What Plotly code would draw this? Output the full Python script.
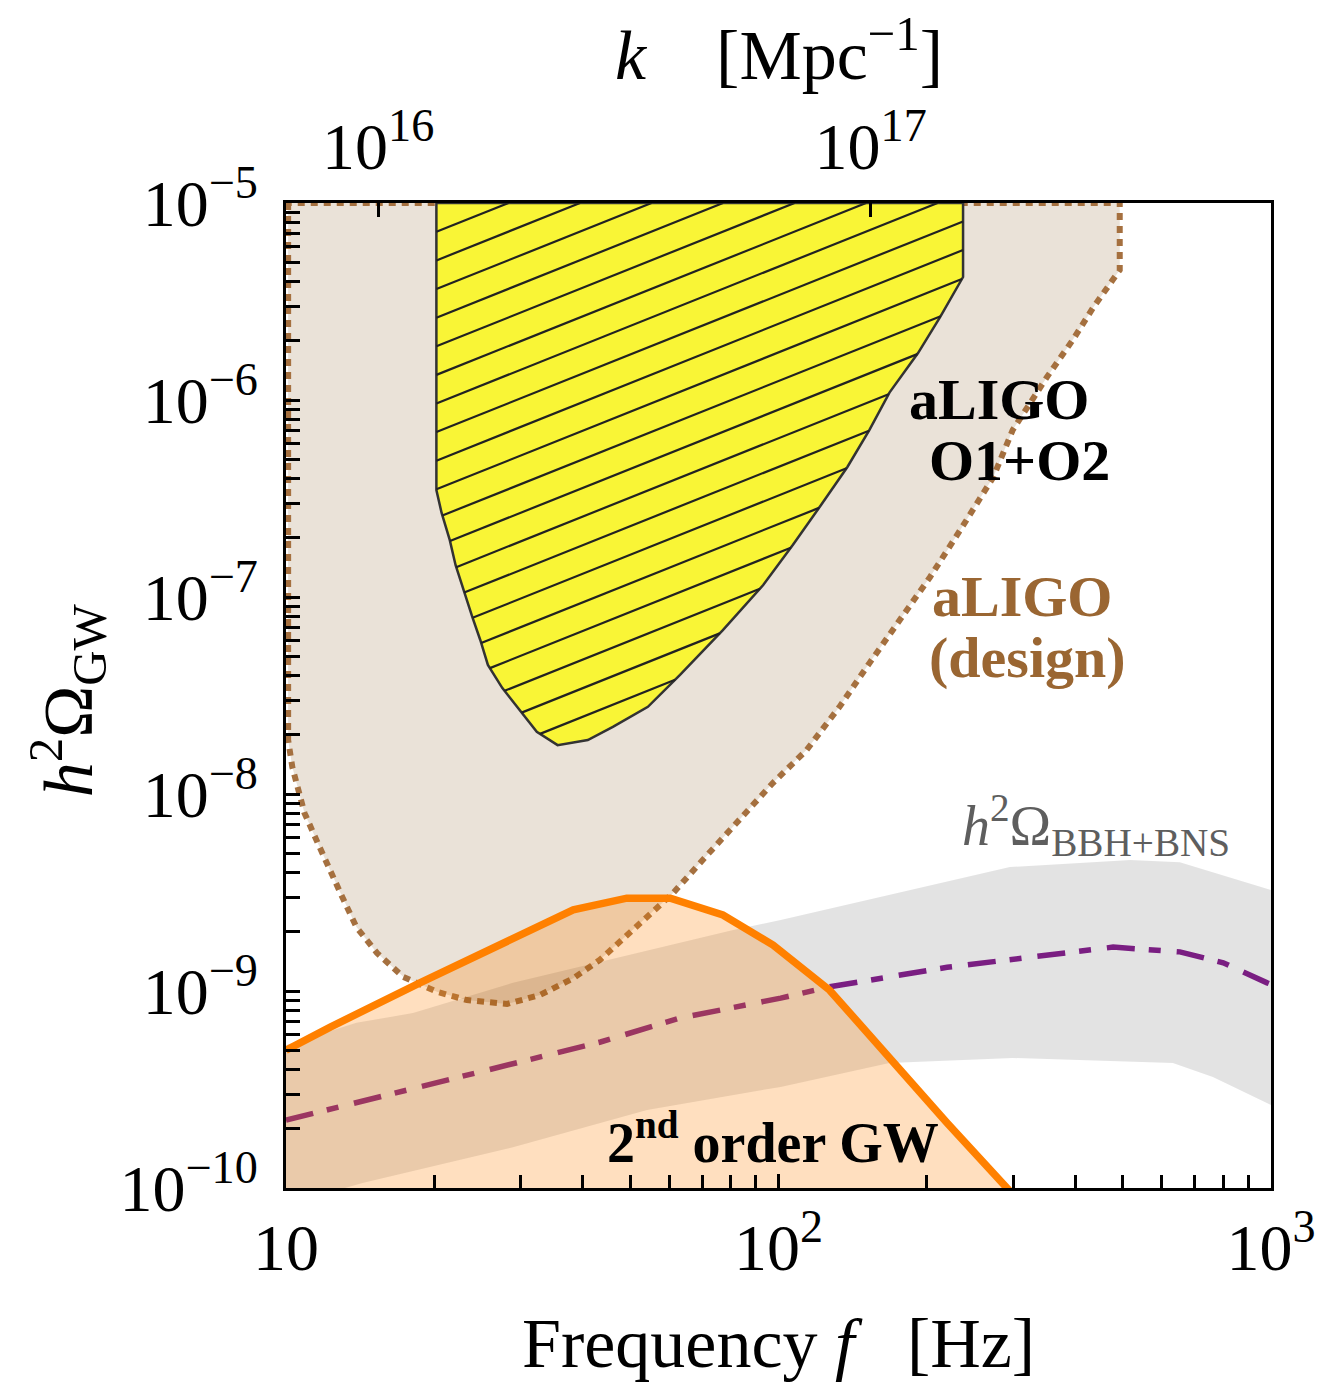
import numpy as np
import plotly.graph_objects as go

# ---------------- data ----------------
# aLIGO design sensitivity region (closed contour, f in Hz)
design_f = [10.1, 10.1, 10.3, 10.9, 11.6, 12.0, 12.9, 13.9, 15.3, 17.3, 20.3, 23.3,
            28.1, 32.8, 38.3, 43.4, 50.7, 61.1, 69.3, 83.5, 97.5, 114, 133, 153,
            177, 203, 234, 273, 299, 351, 396, 436, 493, 493, 10.1]
design_omega = [1e-5, 1.88e-8, 1.37e-8, 8.02e-9, 5.64e-9, 4.62e-9, 3.14e-9, 2.11e-9,
                1.56e-9, 1.18e-9, 9.89e-10, 8.99e-10, 8.59e-10, 9.55e-10, 1.16e-9,
                1.44e-9, 2.04e-9, 3.14e-9, 4.47e-9, 7.38e-9, 1.14e-8, 1.67e-8,
                2.77e-8, 4.62e-8, 7.64e-8, 1.26e-7, 2.19e-7, 4.06e-7, 7.05e-7,
                1.31e-6, 2.02e-6, 2.96e-6, 4.57e-6, 1e-5, 1e-5]

# aLIGO O1+O2 excluded region
o1o2_f = [20.2, 20.2, 20.7, 21.5, 22.1, 22.9, 23.9, 24.8, 25.7, 27.5, 29.9, 32.3,
          35.6, 41.0, 46.1, 54.3, 63.1, 77.1, 93.1, 107, 122, 138, 153, 168, 192,
          213, 237, 237]
o1o2_omega = [1e-5, 3.49e-7, 2.67e-7, 1.95e-7, 1.45e-7, 1.09e-7, 7.91e-8, 6.05e-8,
              4.52e-8, 3.45e-8, 2.64e-8, 2.07e-8, 1.77e-8, 1.88e-8, 2.19e-8,
              2.77e-8, 4.02e-8, 6.79e-8, 1.15e-7, 1.84e-7, 2.93e-7, 4.57e-7,
              7.05e-7, 1.09e-6, 1.73e-6, 2.64e-6, 4.21e-6, 1e-5]

# BBH+BNS astrophysical background: band and central estimate
bbh_up_f = [10, 13.9, 18.1, 28.9, 80.9, 101, 295, 518, 653, 1000]
bbh_up_omega = [5.32e-10, 6.89e-10, 7.73e-10, 1.10e-9, 2.04e-9, 2.29e-9, 4.26e-9,
                4.62e-9, 4.51e-9, 3.26e-9]
bbh_lo_f = [10, 14.3, 28.9, 54.1, 101, 168, 299, 632, 762, 1000]
bbh_lo_omega = [8.2e-11, 1.06e-10, 1.61e-10, 2.49e-10, 3.26e-10, 4.31e-10, 4.57e-10,
                4.31e-10, 3.66e-10, 2.64e-10]
bbh_mid_f = [10, 11.6, 22.5, 43.5, 63.1, 101, 127, 220, 409, 478, 653, 800, 982, 1000]
bbh_mid_omega = [2.21e-10, 2.43e-10, 3.66e-10, 5.51e-10, 7.29e-10, 9.20e-10, 1.05e-9,
                 1.32e-9, 1.58e-9, 1.67e-9, 1.58e-9, 1.39e-9, 1.10e-9, 1.08e-9]

# 2nd order (induced) GW spectrum
gw2_f = [10, 12.3, 18.7, 30.8, 38.3, 49.2, 60.3, 77.1, 97.5, 127, 174, 220, 291, 340]
gw2_omega = [5.0e-10, 6.56e-10, 1.10e-9, 1.99e-9, 2.58e-9, 2.96e-9, 2.96e-9,
             2.43e-9, 1.71e-9, 1.01e-9, 4.11e-10, 2.14e-10, 1.0e-10, 6.5e-11]

# axes
k_per_hz = 6.5e14  # k [Mpc^-1] = 6.5e14 * f [Hz]
x_tickvals = [10, 100, 1000]
x_ticktext = ["10", "10<sup>2</sup>", "10<sup>3</sup>"]
y_tickvals = [1e-10, 1e-9, 1e-8, 1e-7, 1e-6, 1e-5]
y_ticktext = ["10<sup>−10</sup>", "10<sup>−9</sup>", "10<sup>−8</sup>",
              "10<sup>−7</sup>", "10<sup>−6</sup>", "10<sup>−5</sup>"]
k_tickvals = [1e16, 1e17]
k_ticktext = ["10<sup>16</sup>", "10<sup>17</sup>"]

FONT = "Liberation Serif"
BROWN = "#A5703F"


def hatch_lines(fx, fy, slope, spacing, c0, n=80):
    """Clip the family of lines log y = slope*log x + c to a polygon (log space)."""
    lx = np.log10(fx)
    ly = np.log10(fy)
    lx = np.append(lx, lx[0])
    ly = np.append(ly, ly[0])
    xs, ys = [], []
    for k in range(-n, n):
        c = c0 + spacing * k
        pts = []
        for i in range(len(lx) - 1):
            g1 = ly[i] - slope * lx[i] - c
            g2 = ly[i + 1] - slope * lx[i + 1] - c
            if g1 * g2 < 0:
                t = g1 / (g1 - g2)
                pts.append((lx[i] + t * (lx[i + 1] - lx[i]),
                            ly[i] + t * (ly[i + 1] - ly[i])))
        pts.sort()
        for j in range(0, len(pts) - 1, 2):
            (xa, ya), (xb, yb) = pts[j], pts[j + 1]
            xs += [10 ** xa, 10 ** xb, None]
            ys += [10 ** ya, 10 ** yb, None]
    return xs, ys


fig = go.Figure()

# aLIGO design region
fig.add_trace(go.Scatter(x=design_f, y=design_omega, mode="lines", fill="toself",
                         fillcolor="#EAE2D8",
                         line=dict(color=BROWN, width=6, dash="7px,6px"),
                         hoverinfo="skip", showlegend=False))

# BBH+BNS band
fig.add_trace(go.Scatter(x=bbh_up_f + bbh_lo_f[::-1], y=bbh_up_omega + bbh_lo_omega[::-1],
                         mode="lines", fill="toself", fillcolor="rgba(0,0,0,0.11)",
                         line=dict(width=0), hoverinfo="skip", showlegend=False))

# BBH+BNS central
fig.add_trace(go.Scatter(x=bbh_mid_f, y=bbh_mid_omega, mode="lines",
                         line=dict(color="#7A1E82", width=5.5, dash="28px,14px,12px,16px"),
                         hoverinfo="skip", showlegend=False))

# 2nd order GW fill + line
fig.add_trace(go.Scatter(x=gw2_f + [gw2_f[-1], gw2_f[0]],
                         y=gw2_omega + [1e-12, 1e-12],
                         mode="lines", fill="toself", fillcolor="rgba(255,128,0,0.25)",
                         line=dict(width=0), hoverinfo="skip", showlegend=False))
fig.add_trace(go.Scatter(x=gw2_f, y=gw2_omega, mode="lines",
                         line=dict(color="#FF8000", width=7.5),
                         hoverinfo="skip", showlegend=False))

# O1+O2 region
fig.add_trace(go.Scatter(x=o1o2_f + [o1o2_f[0]], y=o1o2_omega + [o1o2_omega[0]],
                         mode="lines", fill="toself", fillcolor="#F9F536",
                         line=dict(color="#333333", width=2.5),
                         hoverinfo="skip", showlegend=False))
hx, hy = hatch_lines(o1o2_f, o1o2_omega, slope=1.0, spacing=0.1452, c0=-6.4518)
fig.add_trace(go.Scatter(x=hx, y=hy, mode="lines",
                         line=dict(color="#222222", width=2.2),
                         hoverinfo="skip", showlegend=False))

# invisible trace to carry the top k axis
fig.add_trace(go.Scatter(x=[k_per_hz * 10, k_per_hz * 1000], y=[1e-5, 1e-5],
                         xaxis="x2", yaxis="y", mode="lines",
                         line=dict(width=0), opacity=0,
                         hoverinfo="skip", showlegend=False))

minor_x = [m * 10 ** d for d in (1, 2) for m in range(2, 10)]
minor_y = [m * 10.0 ** d for d in range(-10, -5) for m in range(2, 10)]

tickfont = dict(family=FONT, size=66, color="black")
fig.update_layout(
    width=1332, height=1390,
    margin=dict(l=286, r=61, t=203, b=202),
    paper_bgcolor="white", plot_bgcolor="white",
    xaxis=dict(type="log", range=[1, 3], showgrid=False, zeroline=False,
               showline=True, linewidth=3, linecolor="black",
               ticks="inside", ticklen=14, tickwidth=2.5, tickcolor="black",
               tickvals=x_tickvals, ticktext=x_ticktext, tickfont=tickfont,
               ticklabelstandoff=0,
               minor=dict(ticks="inside", ticklen=13, tickwidth=2.5,
                          tickcolor="black", tickvals=minor_x, showgrid=False)),
    xaxis2=dict(type="log", overlaying="x", side="top", anchor="y",
                range=[np.log10(k_per_hz * 10), np.log10(k_per_hz * 1000)],
                showgrid=False, zeroline=False,
                showline=True, linewidth=3, linecolor="black",
                ticks="inside", ticklen=14, tickwidth=2.5, tickcolor="black",
                tickvals=k_tickvals, ticktext=k_ticktext, tickfont=tickfont,
                ticklabelstandoff=5),
    yaxis=dict(type="log", range=[-10, -5], showgrid=False, zeroline=False,
               showline=True, linewidth=3, linecolor="black", mirror=True,
               ticks="inside", ticklen=14, tickwidth=2.5, tickcolor="black",
               tickvals=y_tickvals, ticktext=y_ticktext, tickfont=tickfont,
               ticklabelstandoff=12,
               minor=dict(ticks="inside", ticklen=14, tickwidth=2.5,
                          tickcolor="black", tickvals=minor_y, showgrid=False)),
)

def ann(text, x, y, size, color="black", xanchor="left", yanchor="middle", angle=0):
    fig.add_annotation(text=text, x=x, y=y, xref="paper", yref="paper",
                       xanchor=xanchor, yanchor=yanchor, showarrow=False,
                       textangle=angle,
                       font=dict(family=FONT, size=size, color=color))

# axis titles
ann("Frequency <i>f</i>\u00a0\u00a0\u00a0[Hz]", 0.4995, -0.158, 70, xanchor="center")
ann("<i>k</i>\u00a0\u00a0\u00a0\u00a0[Mpc<sup>−1</sup>]", 0.50, 1.155, 70, xanchor="center")
ann("<i>h</i><sup>2</sup>Ω<sub>GW</sub>", -0.222, 0.4954, 70, xanchor="center", angle=-90)

# region labels
ann("<b>aLIGO</b>", 0.6305, 0.800, 58)
ann("<b>O1+O2</b>", 0.6508, 0.739, 58)
ann("<b>aLIGO</b>", 0.6538, 0.601, 58, color="#9A6632")
ann("<b>(design)</b>", 0.6508, 0.539, 58, color="#9A6632")
ann("<i>h</i><sup>2</sup>Ω<sub>BBH+BNS</sub>", 0.684, 0.3685, 56, color="#5E5E5E")
ann("<b>2<sup>nd</sup> order GW</b>", 0.324, 0.050, 56)

fig.write_html("out.html")
